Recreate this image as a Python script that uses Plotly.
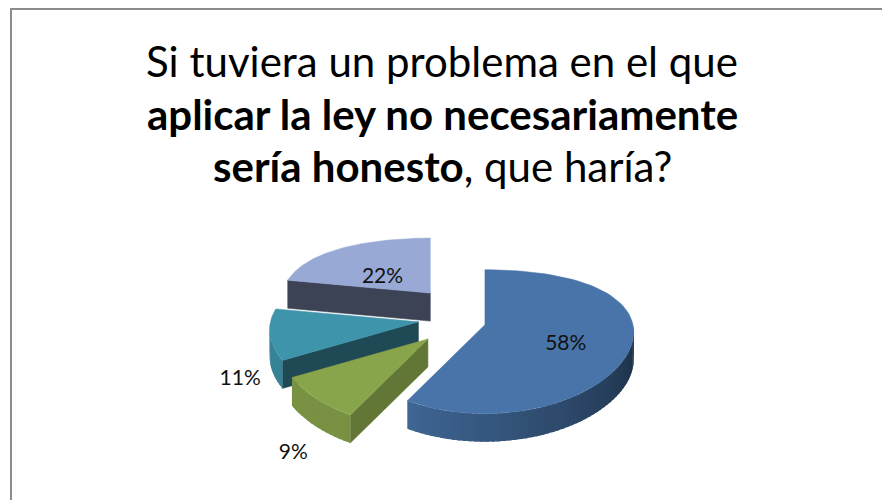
import numpy as np
import plotly.graph_objects as go

# ---------------- data ----------------
categories = ["Opción 1", "Opción 2", "Opción 3", "Opción 4"]
values = [58, 9, 11, 22]
labels = ["58%", "9%", "11%", "22%"]
label_inside = [True, False, False, True]
title_lines = [
    "Si tuviera un problema en el que",
    "<b>aplicar la ley no necesariamente</b>",
    "<b>sería honesto</b>, que haría?",
]

# ---------------- style / geometry ----------------
top_colors = ["#4874A9", "#89A54B", "#3E94AB", "#97A9D4"]
CX, CY = 452.0, 317.0          # pie centre (pixel-like data units)
RX0, RX1 = 148.0, 15.0         # horizontal radius (with perspective)
RY0, RY1 = 72.0, 17.0          # vertical radius (with perspective)
DEPTH = 28.0                   # thickness of the 3D pie
EXP_X, EXP_Y = 34.0, 31.0      # explosion distance
FONT = "Lato, Calibri, 'Liberation Sans', sans-serif"


def hex_to_rgb(h):
    h = h.lstrip("#")
    return [int(h[i:i + 2], 16) for i in (0, 2, 4)]


def shade(h, f):
    r, g, b = hex_to_rgb(h)
    return "rgb(%d,%d,%d)" % (min(255, r * f), min(255, g * f), min(255, b * f))


def ring(theta_deg):
    t = np.radians(theta_deg)
    rx = RX0 - RX1 * np.cos(t)
    ry = RY0 - RY1 * np.cos(t)
    return np.sin(t) * rx, -np.cos(t) * ry


fig = go.Figure()

total = float(sum(values))
starts = np.concatenate([[0.0], np.cumsum(values)[:-1]]) / total * 360.0
ends = np.cumsum(values) / total * 360.0
mids = (starts + ends) / 2.0

# back-to-front drawing order
order = sorted(range(len(values)), key=lambda i: np.cos(np.radians(mids[i])), reverse=True)

label_x, label_y = [None] * len(values), [None] * len(values)

for i in order:
    a, b, m = starts[i], ends[i], mids[i]
    col = top_colors[i]
    ax_ = CX + np.sin(np.radians(m)) * EXP_X
    ay_ = CY - np.cos(np.radians(m)) * EXP_Y

    # radial cut face (start edge) if it faces the viewer
    if np.sin(np.radians(a)) < -1e-6:
        ex, ey = ring(a)
        f = float(np.clip(0.72 - (a - 208.8) * 0.0068, 0.4, 0.8))
        xs = [ax_, ax_ + ex, ax_ + ex, ax_, ax_]
        ys = [ay_, ay_ + ey, ay_ + ey + DEPTH, ay_ + DEPTH, ay_]
        fig.add_trace(go.Scatter(x=xs, y=ys, mode="lines", fill="toself",
                                 fillcolor=shade(col, f), line=dict(color=shade(col, f), width=0.5),
                                 hoverinfo="skip", showlegend=False))
    # radial cut face (end edge) if it faces the viewer
    if np.sin(np.radians(b)) > 1e-6 and b < 180:
        ex, ey = ring(b)
        f = 0.5
        xs = [ax_, ax_ + ex, ax_ + ex, ax_, ax_]
        ys = [ay_, ay_ + ey, ay_ + ey + DEPTH, ay_ + DEPTH, ay_]
        fig.add_trace(go.Scatter(x=xs, y=ys, mode="lines", fill="toself",
                                 fillcolor=shade(col, f), line=dict(color=shade(col, f), width=0.5),
                                 hoverinfo="skip", showlegend=False))

    # outer curved wall (front half only), drawn as overlapping gradient segments
    w0, w1 = max(a, 90.0), min(b, 270.0)
    if w1 > w0:
        nseg = max(2, int((w1 - w0) / 2.0))
        edges = np.linspace(w0, w1, nseg + 1)
        for k in range(nseg):
            hi = min(edges[k + 1] + 1.2, w1)
            th = np.linspace(edges[k], hi, 5)
            ex, ey = ring(th)
            xs = np.concatenate([ax_ + ex, (ax_ + ex)[::-1]])
            ys = np.concatenate([ay_ + ey, (ay_ + ey + DEPTH)[::-1]])
            tm = (edges[k] + edges[k + 1]) / 2
            f = float(np.clip(0.38 + 0.5 * (tm - 90) / 120.0, 0.38, 0.88))
            fig.add_trace(go.Scatter(x=xs, y=ys, mode="lines", fill="toself",
                                     fillcolor=shade(col, f), line=dict(width=0),
                                     hoverinfo="skip", showlegend=False))

    # top face
    th = np.linspace(a, b, 80)
    ex, ey = ring(th)
    xs = np.concatenate([[ax_], ax_ + ex, [ax_]])
    ys = np.concatenate([[ay_], ay_ + ey, [ay_]])
    fig.add_trace(go.Scatter(x=xs, y=ys, mode="lines", fill="toself",
                             fillcolor=col, line=dict(color=col, width=0.5),
                             hoverinfo="text", hoveron="fills",
                             text="%s: %d%%" % (categories[i], values[i]),
                             showlegend=False))

    # label position
    mx, my = ring(m)
    if label_inside[i]:
        label_x[i] = ax_ + mx * 0.55
        label_y[i] = ay_ + my * 0.55 + DEPTH * 0.35
    else:
        label_x[i] = ax_ + mx * 1.2
        label_y[i] = ay_ + my * 1.2 + DEPTH * 1.55

fig.add_trace(go.Scatter(x=label_x, y=label_y, mode="text", text=labels,
                         textfont=dict(family=FONT, size=21, color="#111111"),
                         hoverinfo="skip", showlegend=False))

# title lines
for k, line in enumerate(title_lines):
    fig.add_annotation(x=442, y=61 + 52.5 * k, xref="x", yref="y", text=line,
                       showarrow=False, xanchor="center", yanchor="middle",
                       font=dict(family=FONT, size=42, color="#000000"))

# outer border (left & top visible)
fig.add_shape(type="rect", xref="x", yref="y", x0=11, y0=9, x1=1000, y1=700,
              line=dict(color="#8c8c8c", width=2), fillcolor="rgba(0,0,0,0)")

fig.update_layout(
    width=882, height=500,
    margin=dict(l=0, r=0, t=0, b=0),
    paper_bgcolor="white", plot_bgcolor="white",
    xaxis=dict(range=[0, 882], visible=False, fixedrange=True),
    yaxis=dict(range=[500, 0], visible=False, fixedrange=True),
    showlegend=False,
)

fig.write_html("out.html", config={"displayModeBar": False},
               post_script="document.body.style.margin='0px';document.body.style.overflow='hidden';")
